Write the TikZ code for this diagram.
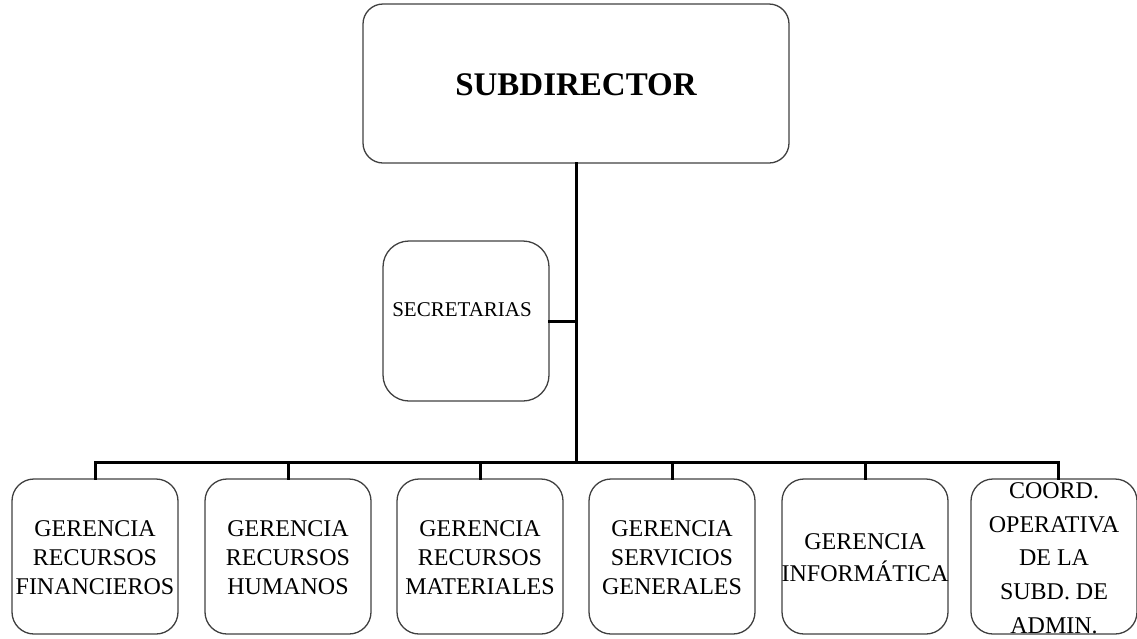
\documentclass[tikz,border=0pt]{standalone}
\usepackage{fontspec}
\setmainfont{Liberation Serif}
\begin{document}
\begin{tikzpicture}[x=1pt,y=-1pt,
  box/.style={draw=black!75,line width=1.3pt,rounded corners=22pt,inner sep=0pt},
  conn/.style={line width=3pt,line cap=rect},
  lbl/.style={align=center,inner sep=0pt,font=\fontsize{24}{29}\selectfont}]
\useasboundingbox (0,0) rectangle (1137,638);
% top box
\node[box,rounded corners=20pt,minimum width=426pt,minimum height=159pt] (sub) at (576,83.5) {};
\node[inner sep=0pt,font=\fontsize{33}{38}\selectfont\bfseries] (subT) at (576,85) {SUBDIRECTOR};
% secretarias
\node[box,rounded corners=26pt,minimum width=166pt,minimum height=160pt] (sec) at (466,321) {};
\node[inner sep=0pt,font=\fontsize{21}{25}\selectfont] (secT) at (462,310) {SECRETARIAS};
% bus coordinates
\coordinate (trunk) at (576,462);
\coordinate (secJ) at (576,321);
\coordinate (busL) at (95,462);
\coordinate (busR) at (1058,462);
% bottom boxes
\foreach \i/\x in {1/95,2/288,3/480,4/672,5/865,6/1054}{
  \node[box,minimum width=166pt,minimum height=155pt] (b\i) at (\x,556.5) {};
}
\node[lbl] (t1) at (95,558) {GERENCIA\\RECURSOS\\FINANCIEROS};
\node[lbl] (t2) at (288,558) {GERENCIA\\RECURSOS\\HUMANOS};
\node[lbl] (t3) at (480,558) {GERENCIA\\RECURSOS\\MATERIALES};
\node[lbl] (t4) at (672,558) {GERENCIA\\SERVICIOS\\GENERALES};
\node[lbl,font=\fontsize{24}{32}\selectfont] (t5) at (865,558) {GERENCIA\\INFORMÁTICA};
\node[lbl,font=\fontsize{24}{33.7}\selectfont] (t6) at (1054,558) {COORD.\\OPERATIVA\\DE LA\\SUBD. DE\\ADMIN.};
% connectors
\draw[conn] (sub.south) -- (trunk);
\draw[conn] (sec.east |- secJ) -- (secJ);
\draw[conn] (busL) -- (busR);
\draw[conn] (busL) -- (b1.north);
\draw[conn] (b2.north |- trunk) -- (b2.north);
\draw[conn] (b3.north |- trunk) -- (b3.north);
\draw[conn] (b4.north |- trunk) -- (b4.north);
\draw[conn] (b5.north |- trunk) -- (b5.north);
\draw[conn] (busR) -- (busR |- b6.north);
\end{tikzpicture}
\end{document}
